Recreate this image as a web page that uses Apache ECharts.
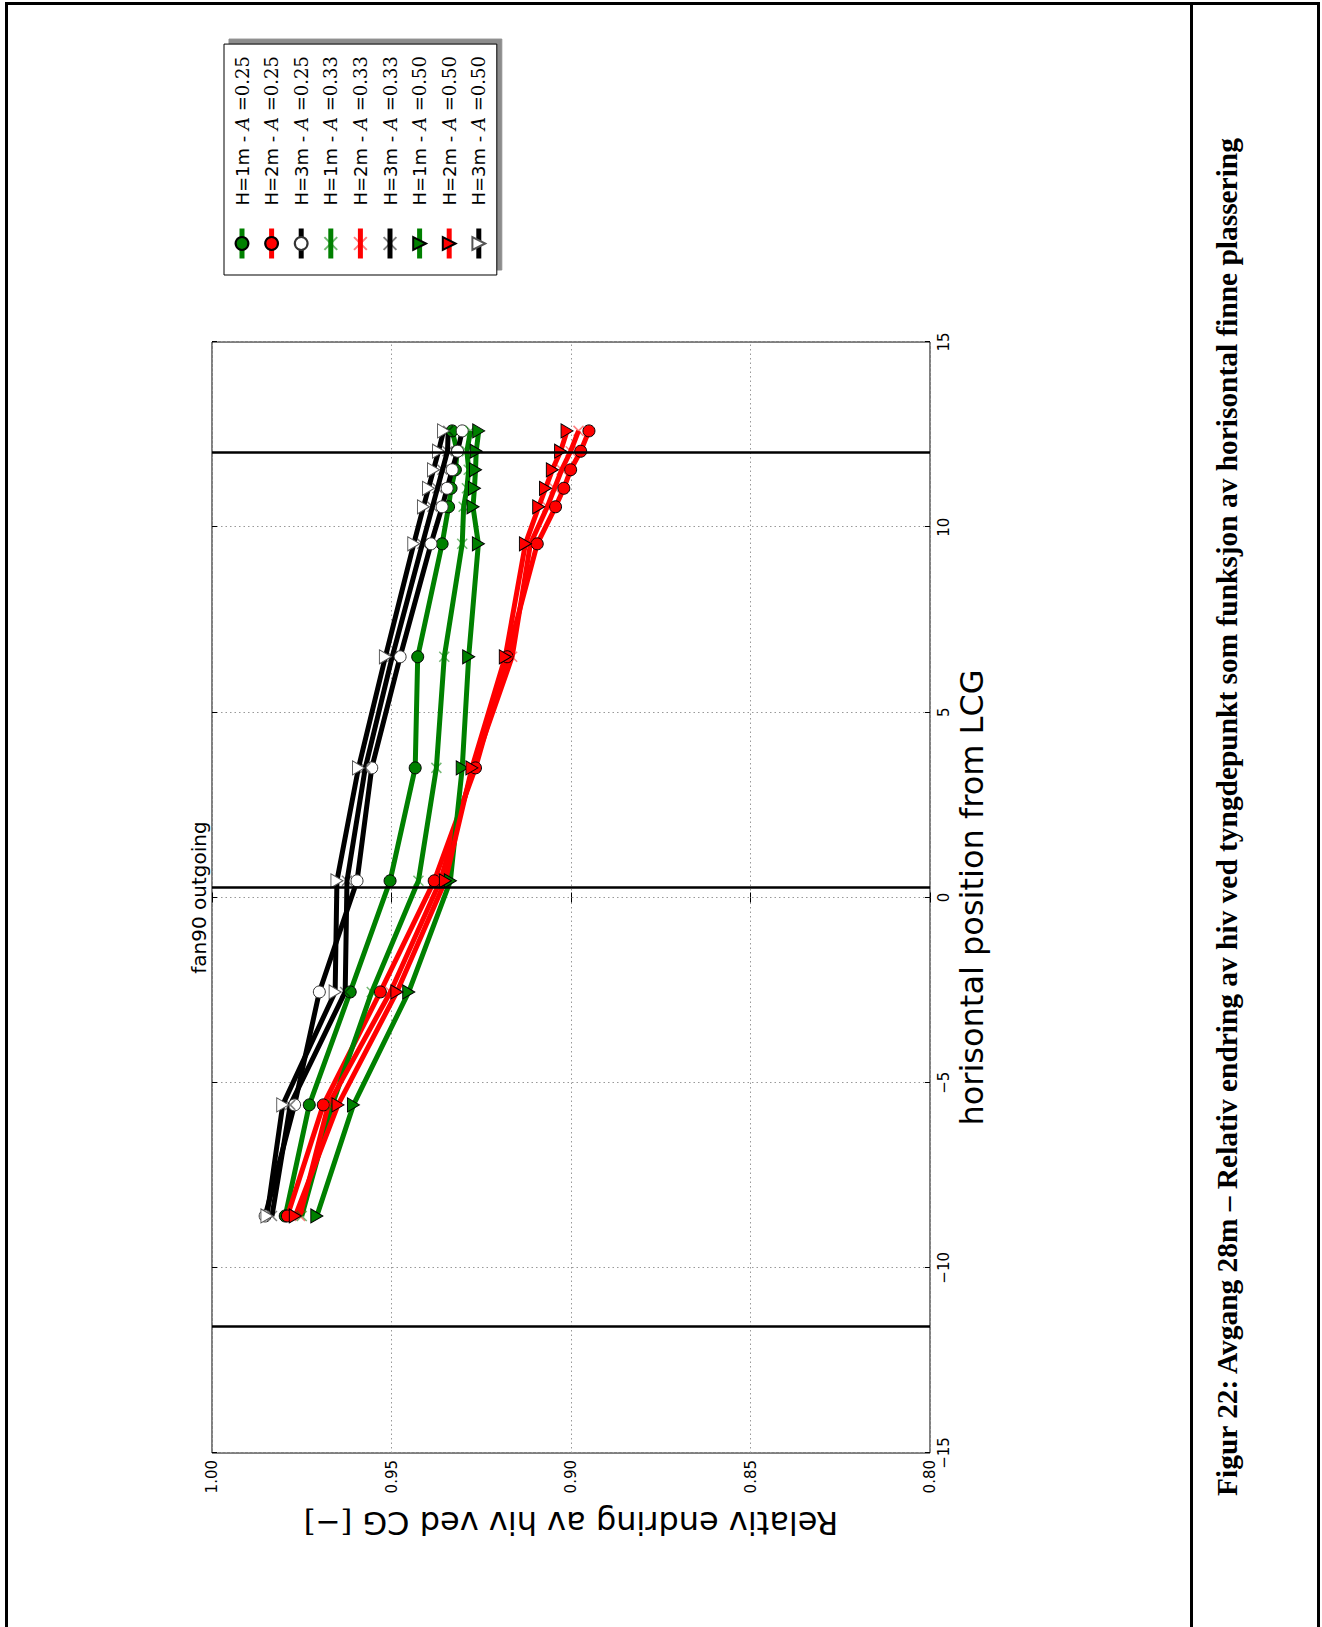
<!DOCTYPE html>
<html>
<head>
<meta charset="utf-8">
<script src="https://cdn.jsdelivr.net/npm/echarts@6/dist/echarts.min.js"></script>
<style>
  html, body { margin: 0; padding: 0; width: 1322px; height: 1627px; overflow: hidden; background: #fff; }
  #frame { position: absolute; left: 5px; top: 2px; width: 1315px; height: 1700px; border: 3px solid #000; border-bottom: none; box-sizing: border-box; }
  #divider { position: absolute; left: 1190px; top: 2px; width: 3px; height: 1700px; background: #000; }
  /* chart is drawn upright, then turned a quarter left like the scanned page */
  #chart { position: absolute; left: 0; top: 1627px; width: 1627px; height: 1322px; transform-origin: 0 0; transform: rotate(-90deg); }
  #caption { position: absolute; left: 1227px; top: 817px; white-space: nowrap; font: bold 30px "Liberation Serif", "Times New Roman", serif; color: #000; }
</style>
</head>
<body>
<div id="frame"></div>
<div id="divider"></div>
<div id="chart"></div>
<div id="caption">Figur 22: Avgang 28m – Relativ endring av hiv ved tyngdepunkt som funksjon av horisontal finne plassering</div>
<script>
// horisontal position from LCG
const posX = [-8.6, -5.6, -2.55, 0.45, 3.5, 6.5, 9.55, 10.55, 11.05, 11.55, 12.05, 12.6];

// relativ endring, A=0.25
const h1a025 = [0.9796, 0.9729, 0.9615, 0.9504, 0.9434, 0.9427, 0.9359, 0.9341, 0.9334, 0.9322, 0.9317, 0.9331];
const h2a025 = [0.9790, 0.9690, 0.9531, 0.9381, 0.9266, 0.9178, 0.9094, 0.9043, 0.9020, 0.9001, 0.8973, 0.8950];
const h3a025 = [0.9852, 0.9770, 0.9701, 0.9596, 0.9555, 0.9476, 0.9390, 0.9359, 0.9345, 0.9331, 0.9316, 0.9303];
// A=0.33
const h1a033 = [0.9750, 0.9665, 0.9555, 0.9425, 0.9375, 0.9353, 0.9303, 0.9299, 0.9290, 0.9285, 0.9290, 0.9280];
const h2a033 = [0.9755, 0.9676, 0.9503, 0.9364, 0.9272, 0.9164, 0.9113, 0.9066, 0.9046, 0.9026, 0.9001, 0.8979];
const h3a033 = [0.9833, 0.9782, 0.9629, 0.9624, 0.9573, 0.9498, 0.9414, 0.9386, 0.9372, 0.9358, 0.9344, 0.9342];
// A=0.50
const h1a050 = [0.9708, 0.9606, 0.9452, 0.9336, 0.9303, 0.9285, 0.9258, 0.9273, 0.9269, 0.9266, 0.9264, 0.9257];
const h2a050 = [0.9768, 0.9649, 0.9485, 0.9350, 0.9276, 0.9183, 0.9127, 0.9090, 0.9071, 0.9052, 0.9029, 0.9011];
const h3a050 = [0.9847, 0.9803, 0.9657, 0.9652, 0.9592, 0.9517, 0.9438, 0.9411, 0.9397, 0.9383, 0.9369, 0.9355];

// finne grenser (svarte linjer)
const finLines = [-11.6, 0.25, 12];

const xTicks = { min: -15, max: 15, step: 5 };
const yTicks = { min: 0.80, max: 1.00, step: 0.05 };

const sans = 'DejaVu Sans';
const serif = 'DejaVu Serif';
const xMark = 'path://M0,0L10,10M10,0L0,10';

function pts(vals) {
  return posX.map((x, i) => [x, vals[i]]);
}

// marker: 'o' circle, 'x' cross, 'v' triangle
function mk(name, vals, color, marker) {
  let black = color === '#000000';
  let s = {
    name: name,
    type: 'line',
    data: pts(vals),
    showSymbol: true,
    lineStyle: { color: color, width: 5 },
    z: 2
  };
  if (marker === 'o') {
    s.symbol = 'circle';
    s.symbolSize = 12;
    s.itemStyle = { color: black ? '#ffffff' : color, borderColor: black ? '#333' : '#000', borderWidth: 1 };
  } else if (marker === 'x') {
    s.symbol = xMark;
    s.symbolSize = 10;
    let light = black ? 'rgba(0,0,0,0.5)' : (color === '#008000' ? 'rgba(0,128,0,0.55)' : 'rgba(255,0,0,0.5)');
    s.itemStyle = { color: 'none', borderColor: light, borderWidth: 1.5 };
  } else {
    s.symbol = 'triangle';
    s.symbolRotate = 180;
    s.symbolSize = [14, 12];
    s.itemStyle = { color: black ? '#ffffff' : color, borderColor: black ? '#555' : '#000', borderWidth: 1 };
  }
  return s;
}

let series = [
  mk('H=1m - A=0.25', h1a025, '#008000', 'o'),
  mk('H=2m - A=0.25', h2a025, '#ff0000', 'o'),
  mk('H=3m - A=0.25', h3a025, '#000000', 'o'),
  mk('H=1m - A=0.33', h1a033, '#008000', 'x'),
  mk('H=2m - A=0.33', h2a033, '#ff0000', 'x'),
  mk('H=3m - A=0.33', h3a033, '#000000', 'x'),
  mk('H=1m - A=0.50', h1a050, '#008000', 'v'),
  mk('H=2m - A=0.50', h2a050, '#ff0000', 'v'),
  mk('H=3m - A=0.50', h3a050, '#000000', 'v')
];
series[0].markLine = {
  silent: true,
  symbol: 'none',
  label: { show: false },
  lineStyle: { color: '#000', width: 2.5, type: 'solid' },
  data: finLines.map(v => ({ xAxis: v }))
};

let tickStyle = { inside: true, length: 5, lineStyle: { color: '#000' } };
let gridLine = { show: true, lineStyle: { color: '#999', type: [1.5, 3], width: 1 } };

let myChart = echarts.init(document.getElementById('chart'), null, { renderer: 'svg' });
myChart.setOption({
  animation: false,
  title: {
    text: 'fan90 outgoing',
    left: 729.5,
    top: 189,
    padding: 0,
    textAlign: 'center',
    textStyle: { fontFamily: sans, fontSize: 20, fontWeight: 'normal', color: '#000' }
  },
  grid: {
    left: 174, right: 342, top: 212, bottom: 392,
    show: true, borderColor: '#000', borderWidth: 1, backgroundColor: 'transparent'
  },
  legend: {
    orient: 'vertical',
    left: 1352,
    top: 224,
    padding: [9, 12, 9, 14],
    itemWidth: 30,
    itemHeight: 16,
    itemGap: 11.6,
    backgroundColor: '#fff',
    borderColor: '#000',
    borderWidth: 1,
    borderRadius: 0,
    shadowColor: 'rgba(0,0,0,0.45)',
    shadowOffsetX: 5,
    shadowOffsetY: 5,
    shadowBlur: 0,
    lineStyle: { width: 5 },
    data: series.map(s => s.name),
    formatter: function (name) {
      let parts = name.split(' - A=');
      return '{s|' + parts[0] + ' - }{i|A}{m| =' + parts[1] + '}';
    },
    textStyle: {
      color: '#000',
      rich: {
        s: { fontFamily: sans, fontSize: 18, lineHeight: 18, padding: [0, 0, 0, 18], color: '#000' },
        i: { fontFamily: serif, fontStyle: 'italic', fontSize: 18, lineHeight: 18, color: '#000' },
        m: { fontFamily: serif, fontSize: 18, lineHeight: 18, color: '#000' }
      }
    }
  },
  xAxis: [{
    type: 'value',
    min: xTicks.min, max: xTicks.max, interval: xTicks.step,
    position: 'bottom',
    name: 'horisontal position from LCG',
    nameLocation: 'middle',
    nameGap: 24,
    nameTextStyle: { fontFamily: sans, fontSize: 32, color: '#000' },
    axisLine: { show: false },
    axisTick: tickStyle,
    axisLabel: {
      fontFamily: sans, fontSize: 15, color: '#000', margin: 6,
      formatter: v => String(v).replace('-', '\u2212')
    },
    splitLine: gridLine
  }, {
    type: 'value',
    min: xTicks.min, max: xTicks.max, interval: xTicks.step,
    position: 'top',
    axisLine: { show: false },
    axisTick: tickStyle,
    axisLabel: { show: false },
    splitLine: { show: false }
  }],
  yAxis: [{
    type: 'value',
    min: yTicks.min, max: yTicks.max, interval: yTicks.step,
    position: 'left',
    name: '{a|Relativ endring av hiv ved CG }{b|[\u2212]}',
    nameLocation: 'middle',
    nameGap: 54,
    nameRotate: 90,
    nameTextStyle: {
      color: '#000',
      rich: {
        a: { fontFamily: sans, fontSize: 32, color: '#000' },
        b: { fontFamily: serif, fontSize: 30, color: '#000' }
      }
    },
    axisLine: { show: false },
    axisTick: tickStyle,
    axisLabel: {
      fontFamily: sans, fontSize: 15, color: '#000', margin: 7,
      formatter: v => v.toFixed(2)
    },
    splitLine: gridLine
  }, {
    type: 'value',
    min: yTicks.min, max: yTicks.max, interval: yTicks.step,
    position: 'right',
    axisLine: { show: false },
    axisTick: tickStyle,
    axisLabel: { show: false },
    splitLine: { show: false }
  }],
  series: series
});

// caption: stretch to the width it has on the page
let cap = document.getElementById('caption');
let k = 1358 / cap.offsetWidth;
cap.style.transform = 'translate(-50%,-50%) rotate(-90deg) scaleX(' + k.toFixed(4) + ')';
</script>
</body>
</html>
